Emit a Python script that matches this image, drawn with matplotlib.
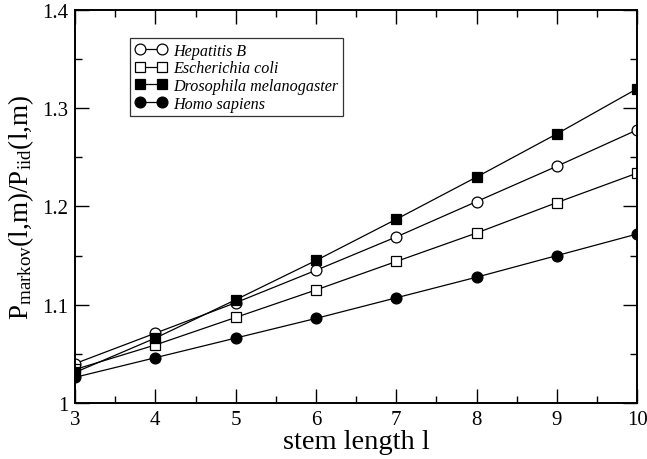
import numpy as np
import matplotlib
matplotlib.use('Agg')
import matplotlib.pyplot as plt
from matplotlib.ticker import MultipleLocator, FuncFormatter

plt.rcParams['font.family'] = 'Liberation Serif'
plt.rcParams['mathtext.fontset'] = 'custom'
plt.rcParams['mathtext.rm'] = 'Liberation Serif'
plt.rcParams['mathtext.it'] = 'Liberation Serif:italic'

# stem length l
stem = [3, 4, 5, 6, 7, 8, 9, 10]

# P_markov / P_iid per organism
hepatitis  = [1.040, 1.071, 1.102, 1.135, 1.169, 1.205, 1.241, 1.278]
ecoli      = [1.034, 1.059, 1.087, 1.115, 1.144, 1.173, 1.204, 1.234]
drosophila = [1.031, 1.066, 1.105, 1.145, 1.187, 1.230, 1.274, 1.320]
homo       = [1.026, 1.046, 1.066, 1.086, 1.107, 1.128, 1.150, 1.172]

names = ['Hepatitis B', 'Escherichia coli', 'Drosophila melanogaster', 'Homo sapiens']

fig = plt.figure(figsize=(6.47, 4.60), dpi=100)
ax = fig.add_axes([0.116, 0.122, 0.869, 0.854])

kw = dict(color='black', lw=0.9, markeredgecolor='black', markeredgewidth=0.9)
ax.plot(stem, hepatitis, marker='o', ms=7.8, mfc='white', label=names[0], **kw)
ax.plot(stem, ecoli, marker='s', ms=6.5, mfc='white', label=names[1], **kw)
ax.plot(stem, drosophila, marker='s', ms=6.5, mfc='black', label=names[2], **kw)
ax.plot(stem, homo, marker='o', ms=7.8, mfc='black', label=names[3], **kw)

ax.set_xlim(3, 10)
ax.set_ylim(1.0, 1.4)
ax.xaxis.set_major_locator(MultipleLocator(1))
ax.xaxis.set_minor_locator(MultipleLocator(0.5))
ax.yaxis.set_major_locator(MultipleLocator(0.1))
ax.yaxis.set_minor_locator(MultipleLocator(0.05))
ax.yaxis.set_major_formatter(FuncFormatter(lambda v, p: '%g' % round(v, 2)))
ax.tick_params(which='both', direction='in', top=True, right=True, labelsize=15, width=1.0)
ax.tick_params(which='major', length=10, pad=5)
ax.tick_params(which='minor', length=5)
for s in ax.spines.values():
    s.set_linewidth(1.4)

ax.set_xlabel('stem length l', fontsize=20.5, labelpad=0)
ax.set_ylabel(r'P$_{\rm markov}$(l,m)/P$_{\rm iid}$(l,m)', fontsize=19.5, labelpad=4)

leg = ax.legend(loc='upper left', bbox_to_anchor=(0.098, 0.929), numpoints=2,
                prop={'style': 'italic', 'size': 11.6}, frameon=True, fancybox=False,
                edgecolor='black', handlelength=2.0, handletextpad=0.35,
                labelspacing=0.1, borderpad=0.3, borderaxespad=0)
leg.get_frame().set_linewidth(0.9)

fig.savefig('out.png', dpi=100)
